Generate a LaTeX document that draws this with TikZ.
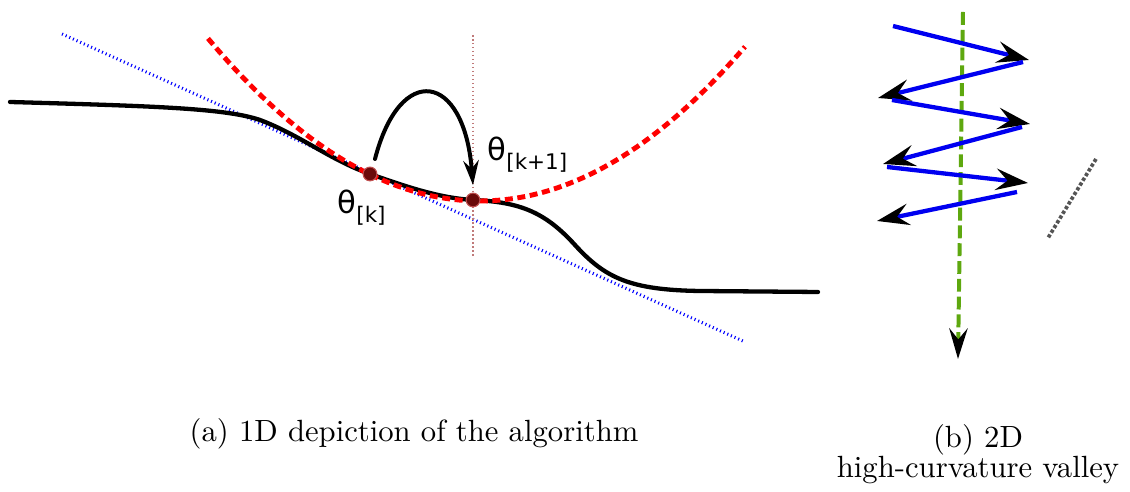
\documentclass[tikz,border=0pt]{standalone}
\usepackage{fontspec}
\usepackage{tikz}
\usetikzlibrary{arrows.meta,positioning,calc}
\newfontfamily\thetafont{DejaVu Sans}
\definecolor{curveC}  {HTML}{000000}
\definecolor{quadC}   {HTML}{FF0000}
\definecolor{tanC}    {HTML}{0000FF}
\definecolor{vertC}   {HTML}{C07A7A}
\definecolor{ptFill}  {HTML}{6A0A0A}
\definecolor{ptC}     {HTML}{C05050}
\definecolor{zigC}    {HTML}{0000F0}
\definecolor{valleyC} {HTML}{5EA80F}
\definecolor{ridgeC}  {HTML}{555555}
\tikzset{
  stepTip/.tip={Stealth[length=10.5pt,width=7pt,inset=3.8pt,color=black]},
  downTip/.tip={Stealth[length=10pt,width=6pt,inset=3.6pt,color=black]},
  jumpTip/.tip={Stealth[length=8pt,width=5pt,inset=2.6pt,color=black]},
  lossCurve/.style={curveC,line width=1.4pt,line cap=round},
  quadModel/.style={quadC,line width=1.6pt,dash pattern=on 2.6pt off 1.5pt},
  tanLine/.style={tanC,line width=1pt,dash pattern=on 0.35pt off 0.95pt},
  vertLine/.style={vertC,line width=0.9pt,dash pattern=on 0.5pt off 0.8pt},
  iterPt/.style={circle,fill=ptFill,draw=ptC,line width=0.35pt,
                 minimum size=4.5pt,inner sep=0pt},
  thetaLbl/.style={font=\thetafont\fontsize{10}{12}\selectfont,inner sep=0pt,
                   anchor=base west},
  jumpArrow/.style={-jumpTip,black,line width=1.3pt,line cap=round},
  zigArrow/.style={-stepTip,zigC,line width=1.4pt},
  valleyArrow/.style={-downTip,valleyC,line width=1.3pt,
                      dash pattern=on 4.2pt off 1.6pt},
  ridgeLine/.style={ridgeC,line width=1.2pt,dash pattern=on 1.1pt off 0.7pt},
  capLbl/.style={font=\normalsize,inner sep=0pt,anchor=base},
}
\newcommand{\thetaSub}[1]{θ\raisebox{-2.9pt}{\fontsize{7}{8}\selectfont #1}}

\begin{document}
\begin{tikzpicture}[x=0.326pt,y=-0.326pt]
\useasboundingbox (0,0) rectangle (1130,492);

% (a) loss curve, its quadratic model and the tangent at theta_k
\coordinate (tanA) at (62,34);
\coordinate (tanB) at (745,342);
\draw[tanLine] (tanA) -- (tanB);

\coordinate (vertA) at (473,35);
\coordinate (vertB) at (473,258);
\draw[vertLine] (vertA) -- (vertB);

\draw[lossCurve] (10,102) .. controls (150,106) and (225,108) .. (260,120)
  .. controls (300,135) and (330,160) .. (370,174)
  .. controls (410,188) and (440,198) .. (473,200)
  .. controls (520,202) and (545,212) .. (575,245)
  .. controls (605,278) and (630,290) .. (700,291) -- (818,292);

\draw[quadModel] plot[domain=208:745,samples=80]
  (\x,{201-0.0022*(\x-480)*(\x-480)});

\node[iterPt] (thk)  at (370,174) {};
\node[iterPt] (thk1) at (473,200) {};

\coordinate (jumpStart) at (375,159);
\draw[jumpArrow] (jumpStart) .. controls (400,62) and (464,72) .. ([yshift=2.4pt]thk1.north);

\node[thetaLbl] (lblk)  at (337,214) {\thetaSub{[k]}};
\node[thetaLbl] (lblk1) at (487,161) {\thetaSub{[k+1]}};

% (b) zig-zag steps across a narrow valley
\coordinate (vTop) at (963,12);
\coordinate (vBot) at (958,359);
\draw[valleyArrow] (vTop) -- (vBot);

\foreach \i/\ax/\ay/\bx/\by in {1/893/26/1029/60, 2/1023/62/878/98,
    3/892/100/1030/124, 4/1022/127/883/164,
    5/887/167/1028/183, 6/1017/192/877/221} {
  \coordinate (zs\i) at (\ax,\ay);
  \coordinate (ze\i) at (\bx,\by);
  \draw[zigArrow] (zs\i) -- (ze\i);
}

\coordinate (ridgeA) at (1096,159);
\coordinate (ridgeB) at (1048,238);
\draw[ridgeLine] (ridgeA) -- (ridgeB);

% captions
\node[capLbl] (capA)  at (414,442) {(a) 1D depiction of the algorithm};
\node[capLbl] (capB)  at (978,448) {(b) 2D};
\node[capLbl] (capB2) at (978,478) {high-curvature valley};

\end{tikzpicture}
\end{document}
